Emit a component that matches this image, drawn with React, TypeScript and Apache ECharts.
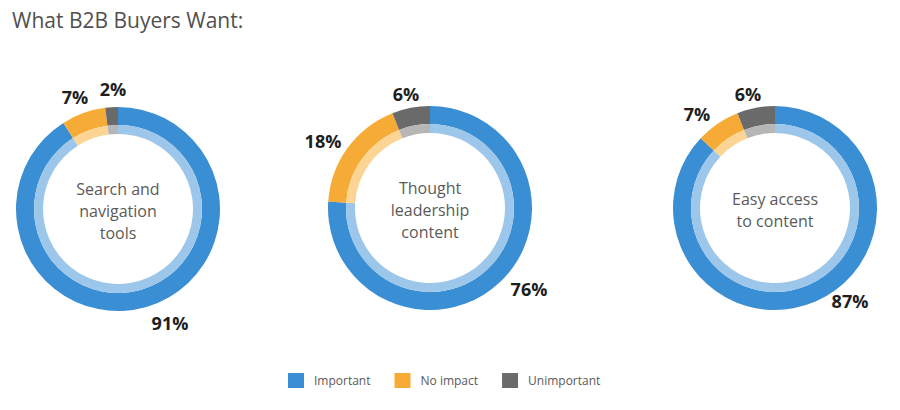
import React, { useEffect, useRef } from "react";
import * as echarts from "echarts";

const title = "What B2B Buyers Want:";
const categories = ["Important", "No impact", "Unimportant"];
const donutLabels = ["Search and\nnavigation\ntools", "Thought\nleadership\ncontent", "Easy access\nto content"];
const importantValues = [91, 76, 87];
const noImpactValues = [7, 18, 7];
const unimportantValues = [2, 6, 6];

const darkColors = ["#3a8ed3", "#f5ab35", "#6a6a6a"];
const lightColors = ["#9dc7ea", "#fcd595", "#b6b6b6"];

// layout
const centers: [number, number][] = [
  [118, 209],
  [430, 208],
  [775, 208],
];
const labelOffsets: [number, number][][] = [
  [[52, 114], [-43, -112], [-5, -120]],
  [[99, 81], [-107, -67], [-24, -114]],
  [[75, 93], [-78, -94], [-27, -114]],
];

export default function App() {
  const ref = useRef<HTMLDivElement>(null);
  useEffect(() => {
    document.body.style.margin = "0";
    if (!ref.current) return;
    const chart = echarts.init(ref.current, undefined, { renderer: "svg" });
    const series: any[] = [];
    const graphic: any[] = [];
    centers.forEach((c, i) => {
      const vals = [importantValues[i], noImpactValues[i], unimportantValues[i]];
      series.push({
        type: "pie",
        center: c,
        radius: [84, 102],
        startAngle: 90,
        clockwise: true,
        avoidLabelOverlap: false,
        minShowLabelAngle: 0,
        silent: true,
        data: categories.map((n, k) => ({ name: n, value: vals[k], itemStyle: { color: darkColors[k] } })),
        label: {
          show: true,
          position: "outside",
          formatter: "{c}%",
          fontFamily: "Open Sans",
          fontSize: 18,
          fontWeight: "bold",
          color: "#1e1e1e",
        },
        labelLine: { show: false },
        labelLayout: (p: any) => {
          const o = labelOffsets[i][p.dataIndex];
          return { x: c[0] + o[0], y: c[1] + o[1], align: "center", verticalAlign: "middle" };
        },
      });
      series.push({
        type: "pie",
        center: c,
        radius: [75, 84],
        startAngle: 90,
        clockwise: true,
        silent: true,
        data: categories.map((n, k) => ({ name: n, value: vals[k], itemStyle: { color: lightColors[k] } })),
        label: { show: false },
        labelLine: { show: false },
      });
      graphic.push({
        type: "text",
        x: c[0],
        y: c[1] + 2,
        style: {
          text: donutLabels[i],
          fontFamily: "Open Sans",
          fontSize: 16,
          lineHeight: 22,
          fill: "#5a5a5a",
          align: "center",
          verticalAlign: "middle",
        },
      });
    });
    graphic.push({
      type: "text",
      x: 12,
      y: 20,
      style: {
        text: title,
        fontFamily: "Open Sans",
        fontSize: 21,
        fill: "#505050",
        align: "left",
        verticalAlign: "middle",
      },
    });
    chart.setOption({
      animation: false,
      backgroundColor: "#ffffff",
      legend: {
        left: 283,
        top: 368,
        icon: "rect",
        itemWidth: 16,
        itemHeight: 15,
        itemGap: 24,
        selectedMode: false,
        data: categories.map((n, k) => ({ name: n, itemStyle: { color: darkColors[k] } })),
        textStyle: { fontFamily: "Open Sans", fontSize: 12, color: "#5a5a5a", padding: [0, 0, 0, 5] },
      },
      graphic,
      series,
    });
    return () => chart.dispose();
  }, []);
  return <div ref={ref} style={{ width: 900, height: 410 }} />;
}
